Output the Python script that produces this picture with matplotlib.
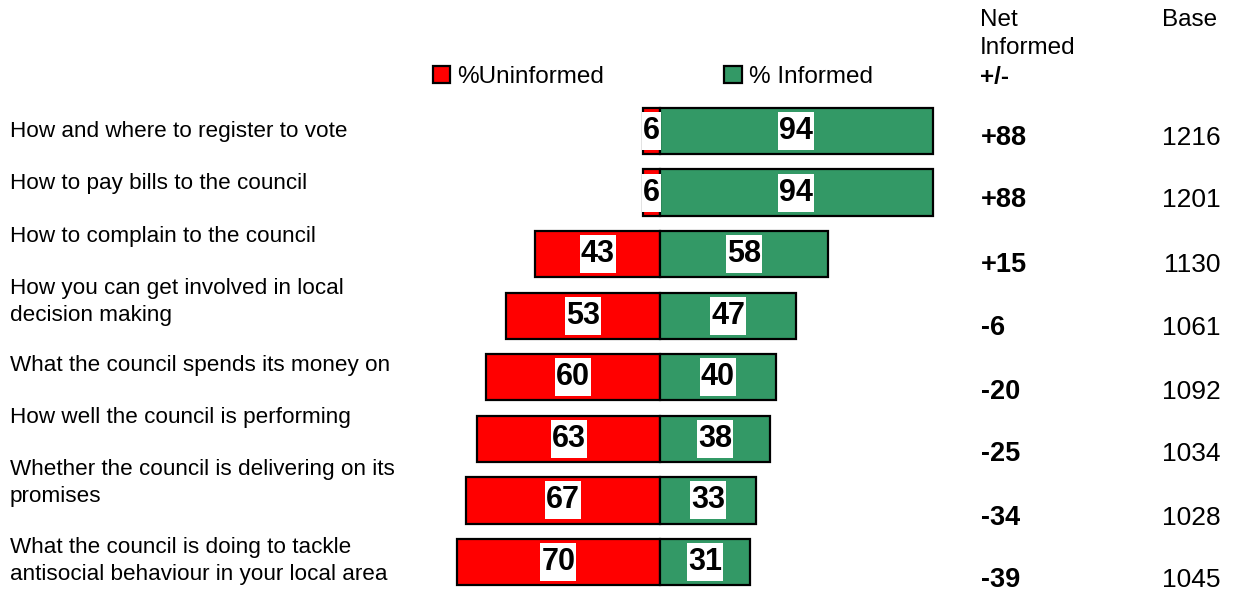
import matplotlib
matplotlib.use("Agg")
import matplotlib.pyplot as plt
from matplotlib.patches import Rectangle
from matplotlib.transforms import IdentityTransform
import numpy as np

plt.rcParams["font.family"] = ["Liberation Sans", "DejaVu Sans"]

# Survey results: how informed residents feel about council topics
categories = [
    "How and where to register to vote",
    "How to pay bills to the council",
    "How to complain to the council",
    "How you can get involved in local\ndecision making",
    "What the council spends its money on",
    "How well the council is performing",
    "Whether the council is delivering on its\npromises",
    "What the council is doing to tackle\nantisocial behaviour in your local area",
]
uninformed = [6, 6, 43, 53, 60, 63, 67, 70]
informed = [94, 94, 58, 47, 40, 38, 33, 31]
base = [1216, 1201, 1130, 1061, 1092, 1034, 1028, 1045]

RED = "#FF0000"
GREEN = "#339966"

W, H = 1235, 595
DPI = 100
fig = plt.figure(figsize=(W / DPI, H / DPI), dpi=DPI)


def fx(x):
    return x / W


def fy(y):
    return 1 - y / H


# Bar area: zero line at x=660 px, ~2.9 px per percentage point
ax = fig.add_axes([0, 0, 1, 1])
ax.set_xlim(-660 / 2.9, (W - 660) / 2.9)
row0, step = 131, 61.57
ax.set_ylim((H - row0) / step, -row0 / step)
ax.axis("off")

y = np.arange(len(categories))
u = np.array(uninformed)
g = np.array(informed)
bar_h = 0.75
ax.barh(y, -u, height=bar_h, color=RED, edgecolor="black", linewidth=1.6,
        label="%Uninformed", zorder=2)
ax.barh(y, g, height=bar_h, color=GREEN, edgecolor="black", linewidth=1.6,
        label="% Informed", zorder=2)

value_texts = []
for i in range(len(y)):
    for xc, v in ((-u[i] / 2, u[i]), (g[i] / 2, g[i])):
        t = ax.text(xc, y[i], f"{v}", ha="center", va="center",
                    fontsize=22, fontweight="bold", zorder=4)
        value_texts.append(t)

# White label boxes sized to the digits, nearly full bar height
fig.canvas.draw()
renderer = fig.canvas.get_renderer()
box_h = 38
for t in value_texts:
    bb = t.get_window_extent(renderer)
    cx, cy = ax.transData.transform(t.get_position())
    w = bb.width + 2
    fig.add_artist(Rectangle((cx - w / 2, cy - box_h / 2), w, box_h,
                             facecolor="white", edgecolor="none",
                             transform=IdentityTransform(), zorder=3))
    t.set_zorder(5)
    t.remove()
    fig.add_artist(t)

# Legend
fig.legend(loc="center left", bbox_to_anchor=(fx(433), fy(77)), ncol=2,
           frameon=False, fontsize=17.5, handlelength=0.7, handleheight=0.7,
           handletextpad=0.3, columnspacing=4.95, borderpad=0,
           borderaxespad=0)

# Category labels
label_y = [131, 184, 237, 302, 366, 417, 483, 561]
for txt, ly in zip(categories, label_y):
    fig.text(fx(10), fy(ly), txt, ha="left", va="center", fontsize=16.2,
             linespacing=1.35)

# Column headers
fig.text(fx(980), fy(20), "Net", ha="left", va="center", fontsize=17.5)
fig.text(fx(980), fy(48), "Informed", ha="left", va="center", fontsize=17.5)
fig.text(fx(980), fy(78), "+/-", ha="left", va="center", fontsize=17.5,
         fontweight="bold")
fig.text(fx(1217), fy(20), "Base", ha="right", va="center", fontsize=17.5)

# Net informed and base columns
net = g - u
value_y = [138, 200, 265, 328, 392, 454, 518, 580]
for n, b, vy in zip(net, base, value_y):
    fig.text(fx(981), fy(vy), f"{n:+d}", ha="left", va="center",
             fontsize=19.5, fontweight="bold")
    fig.text(fx(1221), fy(vy), f"{b}", ha="right", va="center", fontsize=19)

fig.savefig("out.png", dpi=DPI, facecolor="white")
